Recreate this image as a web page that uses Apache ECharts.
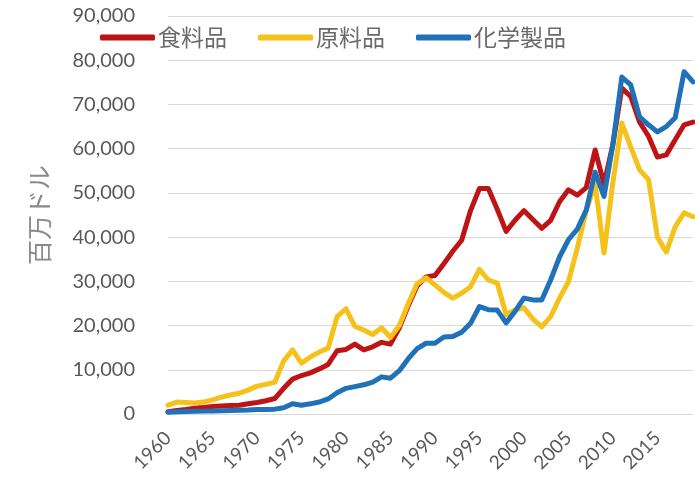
<!DOCTYPE html>
<html>
<head>
<meta charset="utf-8">
<script src="https://cdn.jsdelivr.net/npm/echarts@6/dist/echarts.min.js"></script>
<style>
  html, body { margin: 0; padding: 0; background: #ffffff; }
  #chart { width: 695px; height: 482px; }
</style>
</head>
<body>
<div id="chart"></div>
<script>
// Years on the category axis
const years = [];
for (let y = 1960; y <= 2019; y++) years.push(String(y));

// Series values, million dollars
const food = [
  500, 800, 1000, 1300, 1500, 1700, 1800, 1900, 2000, 2300,
  2600, 3000, 3500, 5800, 7900, 8700, 9300, 10200, 11200, 14300,
  14600, 15800, 14500, 15200, 16200, 15800, 19500, 24500, 29000, 31000,
  31300, 34000, 36800, 39300, 46000, 51000, 51000, 46300, 41300, 43800,
  46000, 44000, 42000, 43800, 48000, 50700, 49500, 51200, 59700, 52000,
  61000, 73700, 71800, 66000, 62800, 58100, 58600, 62000, 65400, 66000
];
const rawMaterials = [
  2000, 2700, 2600, 2500, 2700, 3200, 3800, 4300, 4700, 5400,
  6300, 6700, 7200, 12000, 14500, 11500, 12900, 14000, 14900, 22000,
  23800, 19800, 19000, 18000, 19500, 17300, 20000, 25000, 29500, 30800,
  29200, 27500, 26200, 27300, 28800, 32700, 30300, 29600, 22500, 23500,
  24000, 21500, 19700, 22000, 26200, 29900, 37500, 46000, 52000, 36400,
  52500, 65800, 60400, 55200, 53000, 40000, 36600, 42300, 45500, 44600
];
const chemicals = [
  400, 500, 550, 600, 650, 700, 750, 800, 850, 900,
  1000, 1000, 1100, 1400, 2300, 2000, 2300, 2700, 3400, 4800,
  5800, 6200, 6600, 7200, 8400, 8100, 9800, 12500, 14800, 16000,
  16000, 17400, 17500, 18500, 20500, 24300, 23600, 23500, 20600, 23200,
  26200, 25800, 25800, 30300, 35500, 39400, 41800, 46100, 54700, 49200,
  61000, 76200, 74400, 67200, 65400, 63800, 65000, 67000, 77400, 75100
];

// Legend / series names
const seriesNames = ['食料品', '原料品', '化学製品'];
const seriesColors = ['#BD1515', '#F5C21C', '#1F71B8'];

// Value axis
const yMin = 0, yMax = 90000, yStep = 10000;

const labelColor = '#595959';
const gridColor = '#d9d9d9';
const latin = 'Lato, "Noto Sans", sans-serif';
const cjk = '"Noto Sans CJK JP", "Noto Sans", sans-serif';

const chart = echarts.init(document.getElementById('chart'), null, { renderer: 'canvas' });

const makeSeries = (name, data, color) => ({
  name: name,
  type: 'line',
  data: data,
  showSymbol: false,
  symbol: 'none',
  color: color,
  lineStyle: { width: 5, color: color, cap: 'round', join: 'round' },
  emphasis: { disabled: true },
  animation: false
});

chart.setOption({
  backgroundColor: '#ffffff',
  animation: false,
  grid: { left: 168, right: 2, top: 16, bottom: 68 },
  legend: {
    data: seriesNames,
    left: 100,
    top: 26,
    padding: 0,
    icon: 'roundRect',
    itemWidth: 55,
    itemHeight: 6,
    itemGap: 31,
    textStyle: { fontFamily: cjk, fontSize: 23, color: '#6a6a6a', padding: [0, 0, 0, -2] }
  },
  xAxis: {
    type: 'category',
    data: years,
    boundaryGap: false,
    axisLine: { show: true, lineStyle: { color: gridColor, width: 1 } },
    axisTick: { show: false },
    splitLine: { show: false },
    axisLabel: {
      interval: 4,
      rotate: 45,
      margin: 21,
      fontFamily: latin,
      fontSize: 19,
      color: labelColor
    }
  },
  yAxis: {
    type: 'value',
    min: yMin,
    max: yMax,
    interval: yStep,
    name: '百万ドル',
    nameLocation: 'middle',
    nameRotate: 90,
    nameGap: 116,
    nameTextStyle: { fontFamily: cjk, fontSize: 25, color: '#8a8a8a' },
    axisLine: { show: false },
    axisTick: { show: false },
    splitLine: { show: true, lineStyle: { color: gridColor, width: 1 } },
    axisLabel: {
      margin: 33,
      fontFamily: latin,
      fontSize: 20,
      color: labelColor,
      formatter: v => v.toLocaleString('en-US')
    }
  },
  series: [
    makeSeries(seriesNames[0], food, seriesColors[0]),
    makeSeries(seriesNames[1], rawMaterials, seriesColors[1]),
    makeSeries(seriesNames[2], chemicals, seriesColors[2])
  ]
});
</script>
</body>
</html>
